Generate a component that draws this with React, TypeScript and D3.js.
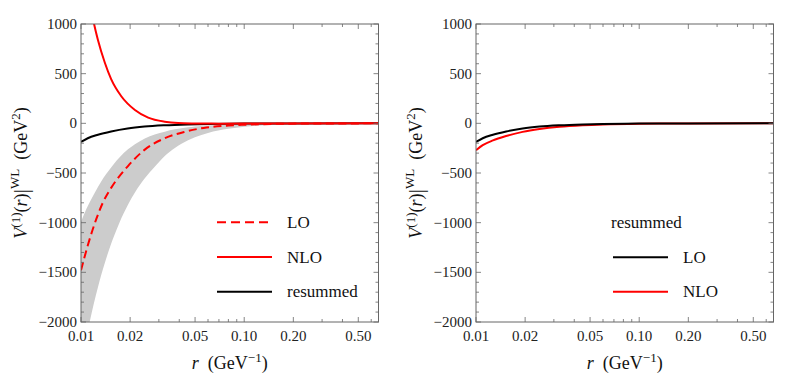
import React from "react";
import * as d3 from "d3";

// r in GeV^-1, V in GeV^2
const nloR = [0.01, 0.0115, 0.012, 0.0127, 0.014, 0.0153, 0.0177, 0.0214, 0.0258, 0.0326, 0.0394, 0.05, 0.07, 0.1, 0.2, 0.665];
const nloV = [1840, 1165, 1007, 839, 610, 445, 270, 134, 57, 16, 3, -1, -3, -2, -0.5, 0];

const loR = [0.01, 0.011, 0.0124, 0.0136, 0.0153, 0.0194, 0.0246, 0.0326, 0.0433, 0.0587, 0.08, 0.1, 0.15, 0.25, 0.4, 0.665];
const loV = [-1480, -1230, -965, -800, -650, -430, -265, -150, -85, -42, -22, -14, -6, -2, -1, 0];

const bandR = [0.01, 0.0108, 0.0113, 0.0127, 0.0133, 0.0153, 0.0159, 0.0172, 0.0194, 0.0214, 0.0246, 0.0283, 0.0326, 0.0376, 0.0453, 0.0499, 0.06, 0.08, 0.1, 0.15, 0.25, 0.4, 0.665];
const bandHigh = [-990, -860, -795, -640, -585, -445, -410, -345, -262, -210, -152, -112, -84, -60, -40, -32, -21, -11, -6.5, -2.5, -0.8, -0.3, 0];
const bandLow = [-2447, -2155, -2000, -1649, -1528, -1213, -1139, -1000, -820, -697, -554, -437, -329, -248, -171, -141, -97, -55, -35, -15, -5, -2, -0.5];

const resR = [0.01, 0.011, 0.0127, 0.0153, 0.0193, 0.0245, 0.0325, 0.045, 0.06, 0.1, 0.2, 0.665];
const resLoV = [-188, -150, -115, -82, -52, -33, -20, -11, -6, -2, -0.5, 0];
const resNloV = [-272, -220, -172, -128, -86, -57, -34, -19, -11, -4, -1, 0];

const xMajor = [0.01, 0.02, 0.05, 0.1, 0.2, 0.5];
const xMajorLabels = ["0.01", "0.02", "0.05", "0.10", "0.20", "0.50"];
const xMinor = [0.03, 0.04, 0.06, 0.07, 0.08, 0.09, 0.3, 0.4, 0.6];
const yMajor = [1000, 500, 0, -500, -1000, -1500, -2000];
const yMinor = d3.range(-2000, 1001, 100).filter((v) => v % 500 !== 0);

const RED = "#ff0000";
const SERIF = "Liberation Serif";

type Line = { r: number[]; v: number[]; color: string; dash?: string };
type LegendItem = { label: string; color: string; dash?: string };

const W = 297.5;
const H = 298;

function Panel({ left, lines, band, legend, legendTitle, id }: {
  left: number; lines: Line[]; band?: boolean; legend: LegendItem[]; legendTitle?: string; id: string;
}) {
  const top = 24;
  const x = d3.scaleLog().domain([0.01, 0.665]).range([0, W]);
  const y = d3.scaleLinear().domain([-2000, 1000]).range([H, 0]);
  const line = d3.line<[number, number]>().x((d) => x(d[0])).y((d) => y(d[1])).curve(d3.curveMonotoneX);
  const area = d3.area<number>()
    .x((_, i) => x(bandR[i]))
    .y0((_, i) => y(bandLow[i]))
    .y1((_, i) => y(bandHigh[i]))
    .curve(d3.curveMonotoneX);
  const frame = "#666";
  const L = left;
  const T = top;

  return (
    <>
      <g transform={`translate(${L},${T})`}>
        <defs>
          <clipPath id={id}>
            <rect x={0} y={0} width={W} height={H} />
          </clipPath>
        </defs>
        <g clipPath={`url(#${id})`}>
          {band && <path d={area(bandR) || ""} fill="#cccccc" />}
          {lines.map((l, i) => (
            <path key={i} d={line(l.r.map((r, j) => [r, l.v[j]] as [number, number])) || ""}
              fill="none" stroke={l.color} strokeWidth={2} strokeDasharray={l.dash} />
          ))}
        </g>
        <rect x={0} y={0} width={W} height={H} fill="none" stroke={frame} strokeWidth={1} />
        {/* ticks on all four sides */}
        {xMajor.concat(xMinor).map((t, i) => {
          const len = i < xMajor.length ? 5 : 3;
          return (
            <g key={"xt" + i} stroke={frame} strokeWidth={0.8}>
              <line x1={x(t)} x2={x(t)} y1={H} y2={H - len} />
              <line x1={x(t)} x2={x(t)} y1={0} y2={len} />
            </g>
          );
        })}
        {yMajor.concat(yMinor).map((t, i) => {
          const len = i < yMajor.length ? 5 : 3;
          return (
            <g key={"yt" + i} stroke={frame} strokeWidth={0.8}>
              <line x1={0} x2={len} y1={y(t)} y2={y(t)} />
              <line x1={W} x2={W - len} y1={y(t)} y2={y(t)} />
            </g>
          );
        })}
        {legend.map((it, i) => {
          const ly = legendTitle ? 233.3 + i * 34.4 : 198.3 + i * 34.7;
          const lx = legendTitle ? 137 : 136;
          return (
            <line key={"ll" + i} x1={lx} x2={lx + 55} y1={ly} y2={ly} stroke={it.color} strokeWidth={2} strokeDasharray={it.dash} />
          );
        })}
      </g>
      {/* text placed in page coordinates */}
      {xMajor.map((t, i) => (
        <text key={"xl" + i} fontFamily={SERIF} fontSize={15} fill="#222" x={L + x(t)} y={T + H + 18.5} textAnchor="middle">{xMajorLabels[i]}</text>
      ))}
      {yMajor.map((t, i) => (
        <text key={"yl" + i} fontFamily={SERIF} fontSize={15} fill="#222" x={L - 4} y={T + y(t) + 5} textAnchor="end">{t < 0 ? "\u2212" + Math.abs(t) : String(t)}</text>
      ))}
      <text fontFamily={SERIF} fontSize={18} fill="#111" x={L + W / 2} y={T + H + 47} textAnchor="middle">
        <tspan fontFamily={SERIF} fontStyle="italic">r</tspan>
        <tspan fontFamily={SERIF}>{"\u2002(GeV"}</tspan>
        <tspan fontFamily={SERIF} fontSize={13} dy={-7}>{"\u22121"}</tspan>
        <tspan fontFamily={SERIF} dy={7}>)</tspan>
      </text>
      <text fontFamily={SERIF} fontSize={18} fill="#111" transform={`translate(${L - 54},${T + H / 2}) rotate(-90)`} textAnchor="middle">
        <tspan fontFamily={SERIF} fontStyle="italic">V</tspan>
        <tspan fontFamily={SERIF} fontSize={13} dy={-7}>(1)</tspan>
        <tspan fontFamily={SERIF} dy={7}>(</tspan>
        <tspan fontFamily={SERIF} fontStyle="italic">r</tspan>
        <tspan fontFamily={SERIF}>)</tspan>
        <tspan fontFamily={SERIF} fontSize={22} dy={1}>|</tspan>
        <tspan fontFamily={SERIF} fontSize={13} dy={-9}>WL</tspan>
        <tspan fontFamily={SERIF} dy={8}>{"\u2002(GeV"}</tspan>
        <tspan fontFamily={SERIF} fontSize={13} dy={-7}>2</tspan>
        <tspan fontFamily={SERIF} dy={7}>)</tspan>
      </text>
      {legendTitle && <text fontFamily={SERIF} fontSize={17} fill="#111" x={L + 135} y={T + 198 + 5.5}>{legendTitle}</text>}
      {legend.map((it, i) => {
        const ly = legendTitle ? 233.3 + i * 34.4 : 198.3 + i * 34.7;
        const lx = legendTitle ? 137 : 136;
        return (
          <text key={"lt" + i} fontFamily={SERIF} fontSize={17} fill="#111" x={L + lx + 70} y={T + ly + 5.5}>{it.label}</text>
        );
      })}
    </>
  );
}

export default function App() {
  return (
    <svg width={789} height={387} style={{ display: "block", position: "fixed", left: 0, top: 0, background: "#fff" }}>
      <Panel
        id="clipA"
        left={81}
        band
        lines={[
          { r: resR, v: resLoV, color: "#000" },
          { r: loR, v: loV, color: RED, dash: "8,4.5" },
          { r: nloR, v: nloV, color: RED },
        ]}
        legend={[
          { label: "LO", color: RED, dash: "9,5" },
          { label: "NLO", color: RED },
          { label: "resummed", color: "#000" },
        ]}
      />
      <Panel
        id="clipB"
        left={476}
        lines={[
          { r: resR, v: resNloV, color: RED },
          { r: resR, v: resLoV, color: "#000" },
        ]}
        legendTitle="resummed"
        legend={[
          { label: "LO", color: "#000" },
          { label: "NLO", color: RED },
        ]}
      />
    </svg>
  );
}
